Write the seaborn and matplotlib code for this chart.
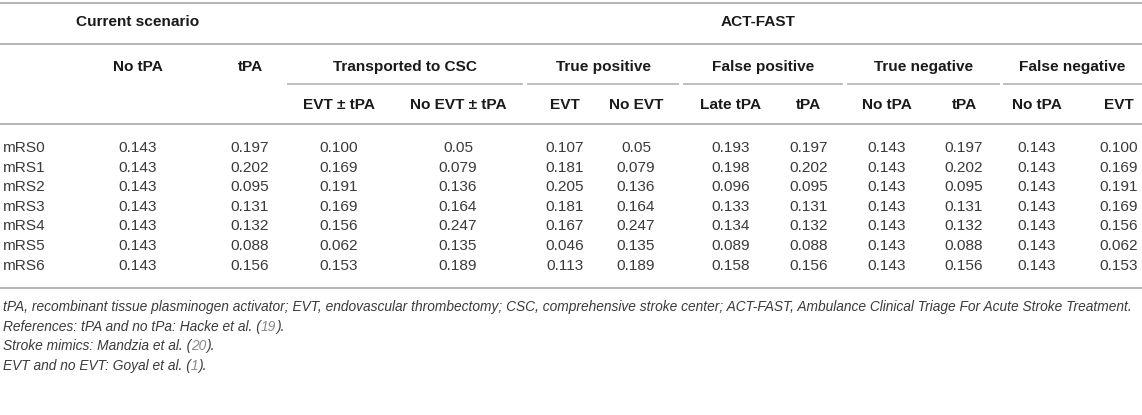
import numpy as np
import pandas as pd
import matplotlib
matplotlib.use("Agg")
from matplotlib import pyplot as plt
import seaborn as sns

# table values (as printed, kept as text so "0.05" stays "0.05")
rows = ["mRS0", "mRS1", "mRS2", "mRS3", "mRS4", "mRS5", "mRS6"]
cur_no_tpa = ["0.143", "0.143", "0.143", "0.143", "0.143", "0.143", "0.143"]
cur_tpa = ["0.197", "0.202", "0.095", "0.131", "0.132", "0.088", "0.156"]
csc_evt = ["0.100", "0.169", "0.191", "0.169", "0.156", "0.062", "0.153"]
csc_no_evt = ["0.05", "0.079", "0.136", "0.164", "0.247", "0.135", "0.189"]
tp_evt = ["0.107", "0.181", "0.205", "0.181", "0.167", "0.046", "0.113"]
tp_no_evt = ["0.05", "0.079", "0.136", "0.164", "0.247", "0.135", "0.189"]
fp_late_tpa = ["0.193", "0.198", "0.096", "0.133", "0.134", "0.089", "0.158"]
fp_tpa = ["0.197", "0.202", "0.095", "0.131", "0.132", "0.088", "0.156"]
tn_no_tpa = ["0.143", "0.143", "0.143", "0.143", "0.143", "0.143", "0.143"]
tn_tpa = ["0.197", "0.202", "0.095", "0.131", "0.132", "0.088", "0.156"]
fn_no_tpa = ["0.143", "0.143", "0.143", "0.143", "0.143", "0.143", "0.143"]
fn_evt = ["0.100", "0.169", "0.191", "0.169", "0.156", "0.062", "0.153"]

sub_headers = ["No tPA", "tPA", "EVT \u00b1 tPA", "No EVT \u00b1 tPA", "EVT", "No EVT",
               "Late tPA", "tPA", "No tPA", "tPA", "No tPA", "EVT"]
groups = ["Transported to CSC", "True positive", "False positive", "True negative", "False negative"]

footnotes = [
    [("tPA, recombinant tissue plasminogen activator; EVT, endovascular thrombectomy; CSC, comprehensive stroke center; "
      "ACT-FAST, Ambulance Clinical Triage For Acute Stroke Treatment.", "k")],
    [("References: tPA and no tPa: Hacke et al. (", "k"), ("19", "g"), (").", "k")],
    [("Stroke mimics: Mandzia et al. (", "k"), ("20", "g"), (").", "k")],
    [("EVT and no EVT: Goyal et al. (", "k"), ("1", "g"), (").", "k")],
]

table = pd.DataFrame({
    "c1": cur_no_tpa, "c2": cur_tpa, "c3": csc_evt, "c4": csc_no_evt,
    "c5": tp_evt, "c6": tp_no_evt, "c7": fp_late_tpa, "c8": fp_tpa,
    "c9": tn_no_tpa, "c10": tn_tpa, "c11": fn_no_tpa, "c12": fn_evt,
}, index=rows)

# layout in pixels
W, H = 1142, 415
col_x = [138, 250, 339, 458, 565, 636, 731, 809, 887, 964, 1037, 1119]
group_span = [(287, 523), (527, 679), (683, 843), (847, 1000), (1003, 1142)]
row_y0, row_dy = 148, 19.6

sns.set_theme(style="white")
plt.rcParams["font.family"] = ["Liberation Sans", "DejaVu Sans"]

fig = plt.figure(figsize=(W / 100, H / 100), dpi=100)
ax = fig.add_axes([0, 0, 1, 1])
ax.set_xlim(0, W)
ax.set_ylim(H, 0)
ax.axis("off")

line_c = "#b4b4b4"
head_c = "#1a1a1a"
body_c = "#3a3a3a"
fs = 11.1
fs_note = 9.93

for y in [3, 44, 124, 288]:
    ax.plot([0, W], [y, y], color=line_c, lw=1.4, solid_capstyle="butt")

# top header level
ax.text(138, 22, "Current scenario", ha="center", va="center", fontsize=fs, fontweight="bold", color=head_c)
ax.text(758, 22, "ACT-FAST", ha="center", va="center", fontsize=fs, fontweight="bold", color=head_c)

# group headers with their rules
for g, (x0, x1) in zip(groups, group_span):
    ax.text((x0 + x1) / 2, 67, g, ha="center", va="center", fontsize=fs, fontweight="bold", color=head_c)
    ax.plot([x0, x1], [84, 84], color=line_c, lw=1.2, solid_capstyle="butt")

# column headers
for i, (h, x) in enumerate(zip(sub_headers, col_x)):
    y = 67 if i < 2 else 105
    ax.text(x, y, h, ha="center", va="center", fontsize=fs, fontweight="bold", color=head_c)

# body
for r, name in enumerate(table.index):
    y = row_y0 + r * row_dy
    ax.text(3, y, name, ha="left", va="center", fontsize=fs, color=body_c)
    for x, col in zip(col_x, table.columns):
        ax.text(x, y, table.loc[name, col], ha="center", va="center", fontsize=fs, color=body_c)

# footnotes, pieces placed one after another
fig.canvas.draw()
renderer = fig.canvas.get_renderer()
for k, parts in enumerate(footnotes):
    y = 307 + k * 19.5
    x = 3
    for txt, c in parts:
        t = ax.text(x, y, txt, ha="left", va="center", fontsize=fs_note, style="italic",
                    color=body_c if c == "k" else "#8a8a8a")
        bb = t.get_window_extent(renderer=renderer)
        x = x + bb.width

fig.savefig("out.png", dpi=100)
